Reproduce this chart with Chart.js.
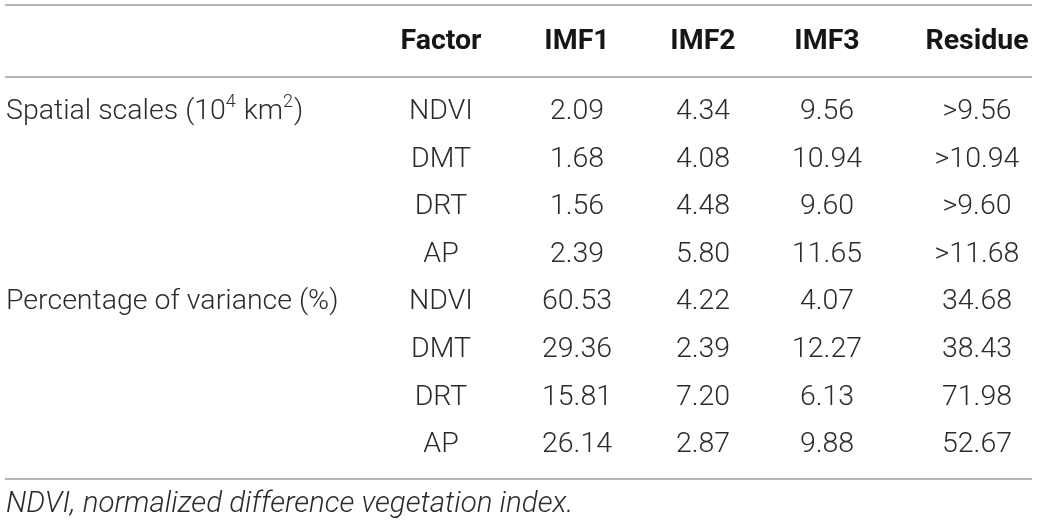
<!DOCTYPE html>
<html>
<head>
<meta charset="utf-8">
<script src="https://cdn.jsdelivr.net/npm/chart.js@4/dist/chart.umd.min.js"></script>
<style>
  html, body { margin: 0; padding: 0; background: #fff; }
  #wrap { width: 1039px; height: 528px; }
</style>
</head>
<body>
<div id="wrap"><canvas id="c" width="1039" height="528"></canvas></div>
<script>
// ---- data ----
const columns = ["Factor", "IMF1", "IMF2", "IMF3", "Residue"];
const rowKeys = ["r1", "r2", "r3", "r4", "r5", "r6", "r7", "r8"];
const groupLabels = ["Spatial scales", "Percentage of variance (%)"];
const factors = ["NDVI", "DMT", "DRT", "AP", "NDVI", "DMT", "DRT", "AP"];
const imf1 = ["2.09", "1.68", "1.56", "2.39", "60.53", "29.36", "15.81", "26.14"];
const imf2 = ["4.34", "4.08", "4.48", "5.80", "4.22", "2.39", "7.20", "2.87"];
const imf3 = ["9.56", "10.94", "9.60", "11.65", "4.07", "12.27", "6.13", "9.88"];
const residue = [">9.56", ">10.94", ">9.60", ">11.68", "34.68", "38.43", "71.98", "52.67"];
const footnote = "NDVI, normalized difference vegetation index.";

// ---- layout (positions on the x scale, 0..1039) ----
const colCenters = [441, 577, 703, 827, 977];
const labelX = 6;

const FONT = "'Roboto', 'Liberation Sans', sans-serif";
const SIZE = 28.5;
const cellValues = [factors, imf1, imf2, imf3, residue];

const datasets = cellValues.map((vals, ci) => ({
  label: columns[ci],
  data: vals.map((v, ri) => ({ x: colCenters[ci], y: rowKeys[ri], text: v })),
  pointRadius: 0,
  pointHoverRadius: 0,
  showLine: false
}));

const tablePlugin = {
  id: "tableText",
  afterDatasetsDraw(chart) {
    const ctx = chart.ctx;
    const xs = chart.scales.x, ys = chart.scales.y;
    const area = chart.chartArea;
    ctx.save();
    // rules
    ctx.strokeStyle = "#9d9d9d";
    ctx.lineWidth = 1.5;
    const x0 = xs.getPixelForValue(5), x1 = xs.getPixelForValue(1032);
    const yTop = area.top - 83, yHead = area.top - 11, yBot = area.bottom + 10;
    [yTop, yHead, yBot].forEach(y => {
      ctx.beginPath(); ctx.moveTo(x0, y); ctx.lineTo(x1, y); ctx.stroke();
    });
    // header
    ctx.fillStyle = "#161616";
    ctx.font = "bold " + SIZE + "px " + FONT;
    ctx.textAlign = "center";
    ctx.textBaseline = "middle";
    const yHeader = area.top - 46;
    columns.forEach((c, i) => ctx.fillText(c, xs.getPixelForValue(colCenters[i]), yHeader));
    // cells
    ctx.fillStyle = "#2b2b2b";
    ctx.font = "300 " + SIZE + "px " + FONT;
    chart.data.datasets.forEach((ds, di) => {
      const meta = chart.getDatasetMeta(di);
      meta.data.forEach((el, i) => {
        ctx.fillText(ds.data[i].text, el.x, el.y);
      });
    });
    // group labels
    ctx.textAlign = "left";
    const lx = xs.getPixelForValue(labelX);
    const y = ys.getPixelForValue(0);
    const parts = [
      [groupLabels[0] + " (10", false],
      ["4", true],
      [" km", false],
      ["2", true],
      [")", false]
    ];
    let cx = lx;
    parts.forEach(([t, sup]) => {
      ctx.font = (sup ? "300 18px " : "300 " + SIZE + "px ") + FONT;
      ctx.fillText(t, cx, sup ? y - 9 : y);
      cx += ctx.measureText(t).width + (sup ? 1 : 0);
    });
    ctx.font = "300 " + SIZE + "px " + FONT;
    ctx.fillText(groupLabels[1], lx, ys.getPixelForValue(4));
    // footnote
    ctx.font = "italic 300 29.5px " + FONT;
    ctx.fillText(footnote, lx, area.bottom + 36);
    ctx.restore();
  }
};

new Chart(document.getElementById("c"), {
  type: "scatter",
  data: { datasets },
  options: {
    responsive: false,
    animation: false,
    devicePixelRatio: 1,
    layout: { padding: { top: 88, bottom: 59, left: 0, right: 0 } },
    plugins: { legend: { display: false }, tooltip: { enabled: false } },
    events: [],
    scales: {
      x: { type: "linear", min: 0, max: 1039, display: false },
      y: { type: "category", labels: rowKeys, offset: true, display: false, grid: { display: false } }
    }
  },
  plugins: [tablePlugin]
});
</script>
</body>
</html>
